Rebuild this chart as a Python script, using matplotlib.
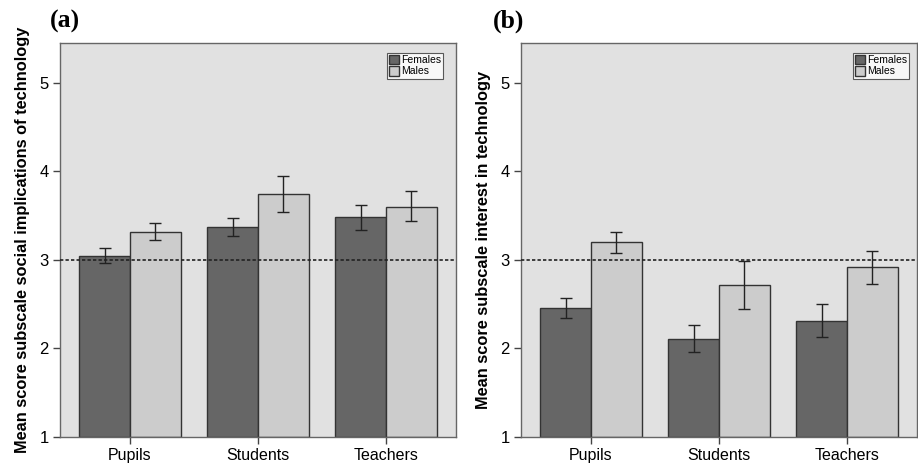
import numpy as np
import matplotlib.pyplot as plt

plt.rcParams['font.family'] = ['Liberation Sans', 'DejaVu Sans']

groups = ['Pupils', 'Students', 'Teachers']

# (a) social implications of technology
soc_fem = [3.05, 3.37, 3.48]
soc_fem_lo = [2.97, 3.27, 3.34]
soc_fem_hi = [3.14, 3.47, 3.62]
soc_male = [3.31, 3.74, 3.60]
soc_male_lo = [3.22, 3.54, 3.44]
soc_male_hi = [3.42, 3.95, 3.78]

# (b) interest in technology
int_fem = [2.46, 2.11, 2.31]
int_fem_lo = [2.34, 1.96, 2.13]
int_fem_hi = [2.57, 2.26, 2.50]
int_male = [3.20, 2.72, 2.92]
int_male_lo = [3.08, 2.45, 2.73]
int_male_hi = [3.32, 2.99, 3.10]

yticks = [1, 2, 3, 4, 5]
fem_col = '#666666'
male_col = '#cccccc'
bg_col = '#e1e1e1'


def panel(ax, fem, fem_lo, fem_hi, male, male_lo, male_hi, ylabel, tag, tag_x, leg_x):
    x = np.arange(len(groups))
    w = 0.395
    base = 1
    for vals, lo, hi, off, col, lab in [(fem, fem_lo, fem_hi, -w / 2, fem_col, 'Females'),
                                         (male, male_lo, male_hi, w / 2, male_col, 'Males')]:
        vals = np.array(vals)
        ax.bar(x + off, vals - base, w, bottom=base, color=col, edgecolor='#333333',
               linewidth=1.0, label=lab, zorder=2)
        err = [vals - np.array(lo), np.array(hi) - vals]
        ax.errorbar(x + off, vals, yerr=err, fmt='none', ecolor='#222222',
                    elinewidth=1.0, capsize=4.5, capthick=1.0, zorder=3)
    ax.axhline(3, color='#222222', linestyle=(0, (2, 1.3)), linewidth=1.2, zorder=4)
    ax.set_facecolor(bg_col)
    ax.set_xlim(-0.547, 2.547)
    ax.set_ylim(1, 5.45)
    ax.set_xticks(x)
    ax.set_xticklabels(groups, fontsize=11.5)
    ax.set_yticks(yticks)
    ax.set_yticklabels([str(t) for t in yticks], fontsize=12)
    ax.tick_params(axis='both', direction='out', length=5, width=1, color='#444444', pad=3)
    for s in ax.spines.values():
        s.set_color('#666666')
        s.set_linewidth(1.0)
    ax.set_ylabel(ylabel, fontsize=11.8, fontweight='bold', labelpad=7)
    ax.text(tag_x, 1.055, tag, transform=ax.transAxes, fontsize=18.5, fontweight='bold',
            family=['Liberation Serif', 'DejaVu Serif'], va='center', ha='left')
    leg = ax.legend(loc='upper right', bbox_to_anchor=(leg_x, 0.975), fontsize=7.5,
                    frameon=True, fancybox=False, handlelength=1.0, handleheight=1.0,
                    handletextpad=0.15, borderpad=0.2, labelspacing=0.1, borderaxespad=0)
    leg.get_frame().set_edgecolor('#333333')
    leg.get_frame().set_linewidth(0.8)
    leg.get_frame().set_facecolor('white')


fig = plt.figure(figsize=(9.18, 4.66), dpi=100)
ax1 = fig.add_axes([0.0654, 0.0622, 0.4314, 0.8455])
ax2 = fig.add_axes([0.5675, 0.0622, 0.4314, 0.8455])

panel(ax1, soc_fem, soc_fem_lo, soc_fem_hi, soc_male, soc_male_lo, soc_male_hi,
      'Mean score subscale social implications of technology', '(a)', -0.025, 0.967)
panel(ax2, int_fem, int_fem_lo, int_fem_hi, int_male, int_male_lo, int_male_hi,
      'Mean score subscale interest in technology', '(b)', -0.071, 0.98)

fig.savefig('out.png', dpi=100)
